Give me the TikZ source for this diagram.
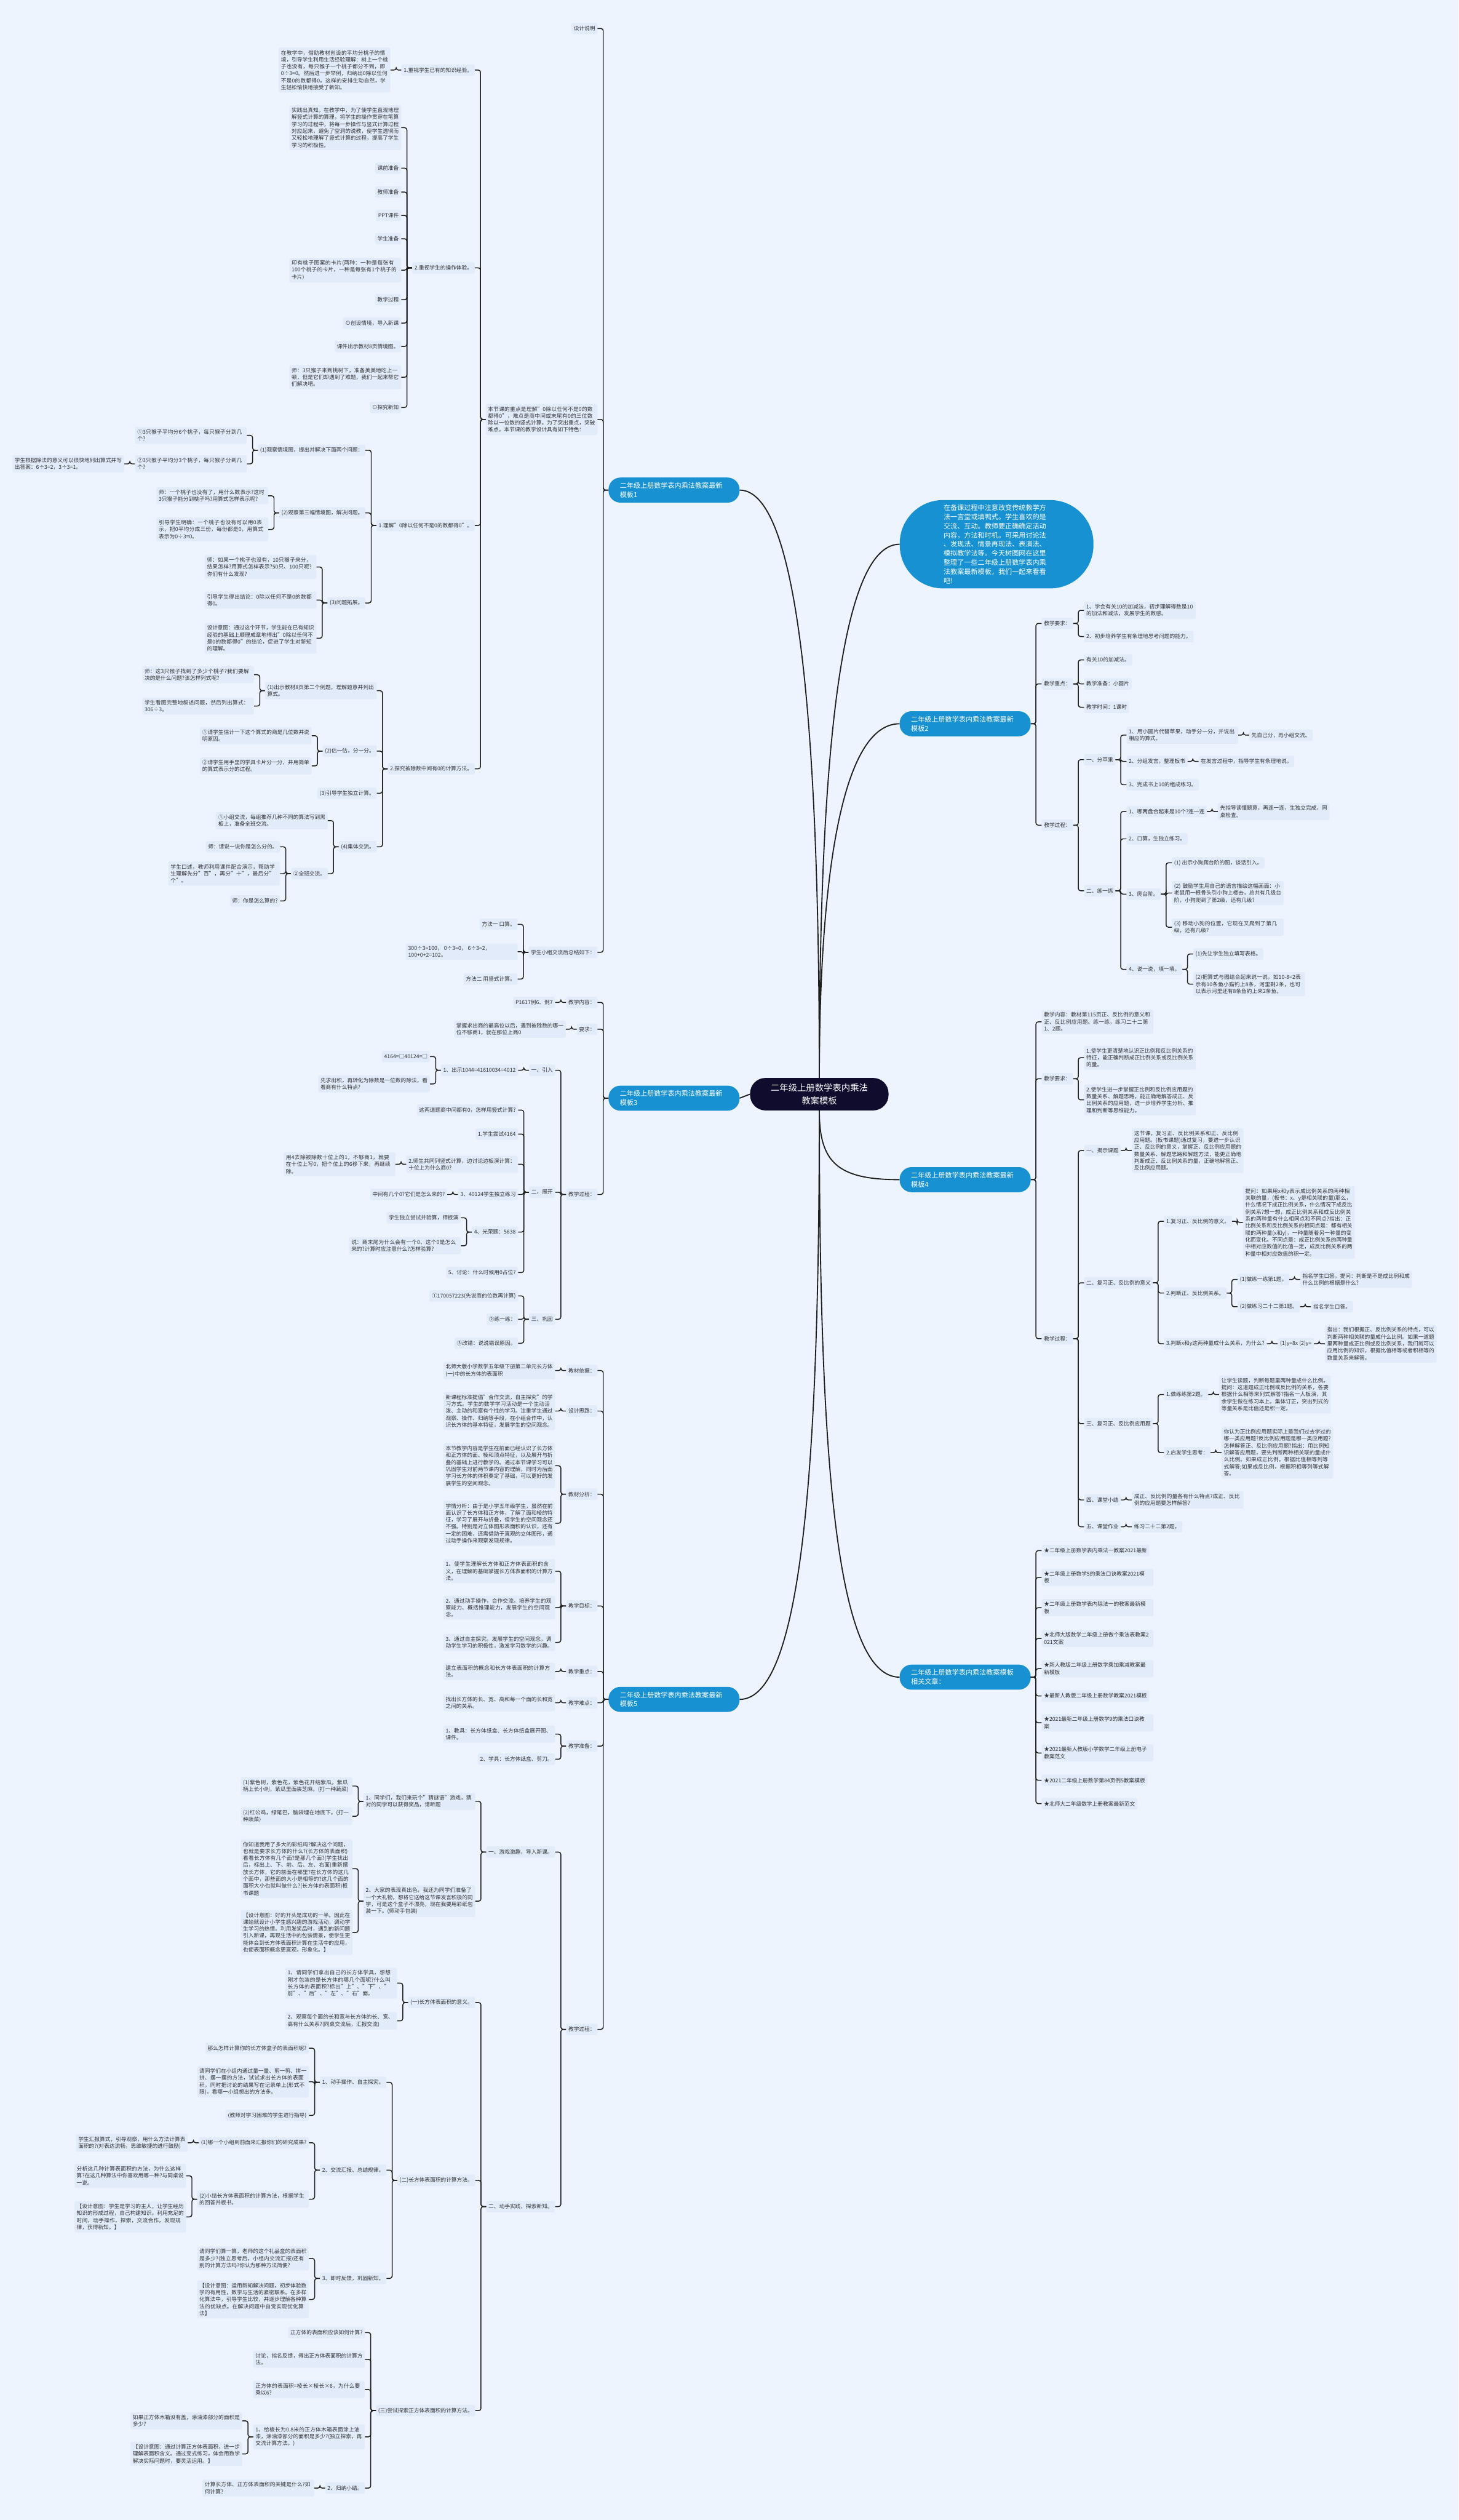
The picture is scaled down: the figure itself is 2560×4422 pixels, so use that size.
\documentclass[tikz,border=0pt]{standalone}
\usepackage{fontspec}
\setmainfont{Noto Sans CJK SC}
\XeTeXlinebreaklocale "zh"
\XeTeXlinebreakskip=0pt plus 1pt
\usetikzlibrary{calc}
\definecolor{bgc}{HTML}{EEF4FE}
\definecolor{boxc}{HTML}{E1EBFA}
\definecolor{topicc}{HTML}{1791D1}
\definecolor{rootc}{HTML}{0F0C2D}
\definecolor{txtc}{HTML}{333333}
\definecolor{linec}{HTML}{1E1E1E}
\tikzset{
  link/.style={draw=linec, line width=1.6pt, rounded corners=4pt},
  trunk/.style={draw=linec, line width=2pt},
  box/.style={fill=boxc, text=txtc, rounded corners=3pt, inner xsep=4pt, inner ysep=4.5pt,
    minimum height=20pt, font=\fontsize{9.4}{12.2}\selectfont},
  para/.style={box, text width=188pt, align=left},
  topic/.style={fill=topicc, text=white, rounded corners=21pt, minimum height=44pt,
    text width=190pt, inner xsep=20pt, align=left, font=\fontsize{12}{16}\selectfont},
  rootnode/.style={fill=rootc, text=white, rounded corners=27pt, minimum height=57pt,
    minimum width=243pt, align=center, font=\fontsize{15.5}{22}\selectfont},
  intro/.style={fill=topicc, text=white, rounded corners=76pt, minimum height=155pt,
    text width=186pt, inner xsep=77pt, inner ysep=0pt, align=left, font=\fontsize{12}{16}\selectfont}
}
% child on the left / on the right of its parent, at height #4
\newcommand{\kidl}[5][box]{\node[#1,anchor=east] (#2) at ($(#3.west |- 0,#4)+(-19,0)$) {#5};
  \draw[link] (#3.west) -- ++(-9,0) |- (#2.east);}
\newcommand{\kidr}[5][box]{\node[#1,anchor=west] (#2) at ($(#3.east |- 0,#4)+(19,0)$) {#5};
  \draw[link] (#3.east) -- ++(9,0) |- (#2.west);}

\begin{document}
\begin{tikzpicture}[x=1pt, y=-1pt]
  \fill[bgc] (0,0) rectangle (2560,4422);
  \useasboundingbox (0,0) rectangle (2560,4422);
  %the centre and the main branches
  \node[rootnode] (root) at (1438,1920) {二年级上册数学表内乘法\\教案模板};
  \node[intro, anchor=west] (intro) at (1579,955) {在备课过程中注意改变传统教学方\\法一言堂或填鸭式。学生喜欢的是\\交流、互动。教师要正确确定活动\\内容，方法和时机。可采用讨论法\\、发现法、情景再现法、表演法、\\模拟教学法等。今天树图网在这里\\整理了一些二年级上册数学表内乘\\法教案最新模板，我们一起来看看\\吧!};
  \node[topic] (t1) at (1183,860) {二年级上册数学表内乘法教案最新\\模板1};
  \node[topic] (t3) at (1183,1927) {二年级上册数学表内乘法教案最新\\模板3};
  \node[topic] (t5) at (1183,2982) {二年级上册数学表内乘法教案最新\\模板5};
  \node[topic] (t2) at (1694,1270) {二年级上册数学表内乘法教案最新\\模板2};
  \node[topic] (t4) at (1694,2070) {二年级上册数学表内乘法教案最新\\模板4};
  \node[topic] (rel) at (1694,2943) {二年级上册数学表内乘法教案模板\\相关文章：};
  \draw[trunk] (root.north) .. controls (1438,1350) and (1410,860) .. (t1.east);
  \draw[trunk] (root.north) .. controls (1438,1400) and (1466,955) .. (intro.west);
  \draw[trunk] (root.north) .. controls (1438,1600) and (1466,1270) .. (t2.west);
  \draw[trunk] (root.west) -- (t3.east);
  \draw[trunk] (root.south) .. controls (1438,2040) and (1470,2070) .. (t4.west);
  \draw[trunk] (root.south) .. controls (1438,2550) and (1466,2943) .. (rel.west);
  \draw[trunk] (root.south) .. controls (1438,2550) and (1410,2982) .. (t5.east);

  %template 1
  \kidl{a1}{t1}{50}{设计说明}
  \kidl[para]{a2}{t1}{736}{本节课的重点是理解"0除以任何不是0的数都得0"，难点是商中间或末尾有0的三位数除以一位数的竖式计算。为了突出重点，突破难点，本节课的教学设计具有如下特色：}
  \kidl{a3}{t1}{1671}{学生小组交流后总结如下：}
  \kidl{b1}{a2}{123}{1.重视学生已有的知识经验。}
  \kidl{b2}{a2}{470}{2.重视学生的操作体验。}
  \kidl{b3}{a2}{922}{1.理解"0除以任何不是0的数都得0"。}
  \kidl{b4}{a2}{1349}{2.探究被除数中间有0的计算方法。}
  \kidl[para]{c1}{b1}{123}{在教学中，借助教材创设的平均分桃子的情境，引导学生利用生活经验理解：树上一个桃子也没有，每只猴子一个桃子都分不到，即0÷3=0。然后进一步举例，归纳出0除以任何不是0的数都得0。这样的安排生动自然，学生轻松愉快地接受了新知。}
  \kidl[para]{d1}{b2}{224}{实践出真知。在教学中，为了使学生直观地理解竖式计算的算理，将学生的操作贯穿在笔算学习的过程中，将每一步操作与竖式计算过程对应起来，避免了空洞的说教，使学生透彻而又轻松地理解了竖式计算的过程，提高了学生学习的积极性。}
  \kidl{d2}{b2}{295}{课前准备}
  \kidl{d3}{b2}{337}{教师准备}
  \kidl{d4}{b2}{378}{PPT课件}
  \kidl{d5}{b2}{419}{学生准备}
  \kidl[para]{d6}{b2}{474}{印有桃子图案的卡片(两种：一种是每张有100个桃子的卡片，一种是每张有1个桃子的卡片)}
  \kidl{d7}{b2}{526}{教学过程}
  \kidl{d8}{b2}{567}{⊙创设情境，导入新课}
  \kidl{d9}{b2}{608}{课件出示教材8页情境图。}
  \kidl[para]{d10}{b2}{662}{师：3只猴子来到桃树下，准备美美地吃上一顿，但是它们却遇到了难题，我们一起来帮它们解决吧。}
  \kidl{d11}{b2}{715}{⊙探究新知}
  \kidl{e1}{b3}{790}{(1)观察情境图，提出并解决下面两个问题：}
  \kidl[para]{e11}{e1}{764}{①3只猴子平均分6个桃子，每只猴子分到几个?}
  \kidl[para]{e12}{e1}{814}{②3只猴子平均分3个桃子，每只猴子分到几个?}
  \kidl[para]{e121}{e12}{814}{学生根据除法的意义可以很快地列出算式并写出答案：6÷3=2，3÷3=1。}
  \kidl{e2}{b3}{900}{(2)观察第三幅情境图，解决问题。}
  \kidl[para]{e21}{e2}{870}{师：一个桃子也没有了，用什么数表示?这时3只猴子能分到桃子吗?用算式怎样表示呢?}
  \kidl[para]{e22}{e2}{929}{引导学生明确：一个桃子也没有可以用0表示，把0平均分成三份，每份都是0，用算式表示为0÷3=0。}
  \kidl{e3}{b3}{1058}{(3)问题拓展。}
  \kidl[para]{e31}{e3}{995}{师：如果一个桃子也没有，10只猴子来分，结果怎样?用算式怎样表示?50只、100只呢?你们有什么发现?}
  \kidl[para]{e32}{e3}{1053}{引导学生得出结论：0除以任何不是0的数都得0。}
  \kidl[para]{e33}{e3}{1120}{设计意图：通过这个环节，学生能在已有知识经验的基础上顺理成章地得出"0除以任何不是0的数都得0"的结论，促进了学生对新知的理解。}
  \kidl[para]{f1}{b4}{1212}{(1)出示教材8页第二个例题，理解题意并列出算式。}
  \kidl[para]{f11}{f1}{1184}{师：这3只猴子找到了多少个桃子?我们要解决的是什么问题?该怎样列式呢?}
  \kidl[para]{f12}{f1}{1239}{学生看图完整地叙述问题，然后列出算式：306÷3。}
  \kidl{f2}{b4}{1318}{(2)估一估，分一分。}
  \kidl[para]{f21}{f2}{1291}{①请学生估计一下这个算式的商是几位数并说明原因。}
  \kidl[para]{f22}{f2}{1344}{②请学生用手里的学具卡片分一分，并用简单的算式表示分的过程。}
  \kidl{f3}{b4}{1392}{(3)引导学生独立计算。}
  \kidl{f4}{b4}{1486}{(4)集体交流。}
  \kidl[para]{f41}{f4}{1440}{①小组交流，每组推荐几种不同的算法写到黑板上，准备全班交流。}
  \kidl{f42}{f4}{1533}{②全班交流。}
  \kidl{f421}{f42}{1486}{师：请说一说你是怎么分的。}
  \kidl[para]{f422}{f42}{1533}{学生口述，教师利用课件配合演示，帮助学生理解先分"百"，再分"十"，最后分"个"。}
  \kidl{f423}{f42}{1581}{师：你是怎么算的?}
  \kidl{g1}{a3}{1622}{方法一 口算。}
  \kidl[para]{g2}{a3}{1670}{300÷3=100，0÷3=0，6÷3=2，100+0+2=102。}
  \kidl{g3}{a3}{1718}{方法二 用竖式计算。}

  %template 3
  \kidl{h1}{t3}{1759}{教学内容：}
  \kidl{h11}{h1}{1759}{P1617例6、例7}
  \kidl{h2}{t3}{1806}{要求：}
  \kidl[para]{h21}{h2}{1806}{掌握求出商的最高位以后，遇到被除数的哪一位不够商1，就在那位上商0}
  \kidl{h3}{t3}{2096}{教学过程：}
  \kidl{i1}{h3}{1878}{一、引入}
  \kidl{i11}{i1}{1878}{1、出示1044=41610034=4012}
  \kidl{i111}{i11}{1854}{4164=□40124=□}
  \kidl[para]{i112}{i11}{1902}{先求出积，再转化为除数是一位数的除法，看看商有什么特点?}
  \kidl{i2}{h3}{2092}{二、展开}
  \kidl{i21}{i2}{1948}{这两道题商中间都有0，怎样用竖式计算?}
  \kidl{i22}{i2}{1990}{1.学生尝试4164}
  \kidl[para]{i23}{i2}{2043}{2.师生共同列竖式计算，边讨论边板演计算：十位上为什么商0?}
  \kidl[para]{i231}{i23}{2043}{用4去除被除数十位上的1，不够商1，就要在十位上写0，把个位上的6移下来，再继续除。}
  \kidl{i24}{i2}{2096}{3、40124学生独立练习}
  \kidl{i241}{i24}{2096}{中间有几个0?它们是怎么来的?}
  \kidl{i25}{i2}{2162}{4、光荣题：5638}
  \kidl{i251}{i25}{2137}{学生独立尝试并验算，师板演}
  \kidl[para]{i252}{i25}{2186}{说：商末尾为什么会有一个0，这个0是怎么来的?计算时应注意什么?怎样验算?}
  \kidl{i26}{i2}{2233}{5、讨论：什么时候用0占位?}
  \kidl{i3}{h3}{2315}{三、巩固}
  \kidl{i31}{i3}{2274}{①170057223(先说商的位数再计算)}
  \kidl{i32}{i3}{2315}{②练一练：}
  \kidl{i33}{i3}{2357}{③改错：说说错误原因。}

  %template 5
  \kidl{j1}{t5}{2405}{教材依据：}
  \kidl[para]{j11}{j1}{2405}{北师大版小学数学五年级下册第二单元长方体(一)中的长方体的表面积}
  \kidl{j2}{t5}{2476}{设计思路：}
  \kidl[para]{j21}{j2}{2476}{新课程标准提倡"合作交流，自主探究"的学习方式。学生的数学学习活动是一个生动活泼、主动的和富有个性的学习。注重学生通过观察、操作、归纳等手段，在小组合作中，认识长方体的基本特征，发展学生的空间观念。}
  \kidl{j3}{t5}{2622}{教材分析：}
  \kidl[para]{j31}{j3}{2572}{本节教学内容是学生在前面已经认识了长方体和正方体的面、棱和顶点特征，以及展开与折叠的基础上进行教学的。通过本节课学习可以巩固学生对前两节课内容的理解，同时为后面学习长方体的体积奠定了基础，可以更好的发展学生的空间观念。}
  \kidl[para]{j32}{j3}{2673}{学情分析：由于是小学五年级学生，虽然在前面认识了长方体和正方体，了解了面和棱的特征，学习了展开与折叠，但学生的空间观念还不强。特别是对立体图形表面积的认识，还有一定的困难，还需借助于直观的立体图形，通过动手操作来观察发现规律。}
  \kidl{j4}{t5}{2818}{教学目标：}
  \kidl[para]{j41}{j4}{2757}{1、使学生理解长方体和正方体表面积的含义，在理解的基础掌握长方体表面积的计算方法。}
  \kidl[para]{j42}{j4}{2821}{2、通过动手操作，合作交流，培养学生的观察能力、概括推理能力，发展学生的空间观念。}
  \kidl[para]{j43}{j4}{2882}{3、通过自主探究，发展学生的空间观念，调动学生学习的积极性，激发学习数学的兴趣。}
  \kidl{j5}{t5}{2933}{教学重点：}
  \kidl[para]{j51}{j5}{2933}{建立表面积的概念和长方体表面积的计算方法。}
  \kidl{j6}{t5}{2988}{教学难点：}
  \kidl[para]{j61}{j6}{2988}{找出长方体的长、宽、高和每一个面的长和宽之间的关系。}
  \kidl{j7}{t5}{3064}{教学准备：}
  \kidl[para]{j71}{j7}{3043}{1、教具：长方体纸盒、长方体纸盒展开图、课件。}
  \kidl{j72}{j7}{3087}{2、学具：长方体纸盒、剪刀。}
  \kidl{j8}{t5}{3561}{教学过程：}
  \kidl{k1}{j8}{3250}{一、游戏激趣，导入新课。}
  \kidl[para]{k11}{k1}{3161}{1、同学们，我们来玩个"猜谜语"游戏，猜对的同学可以获得奖品，请听题}
  \kidl[para]{k111}{k11}{3134}{(1)紫色树，紫色花，紫色花开结紫瓜，紫瓜柄上长小刺，紫瓜里面装芝麻。(打一种蔬菜)}
  \kidl[para]{k112}{k11}{3187}{(2)红公鸡，绿尾巴，脑袋埋在地底下。(打一种蔬菜)}
  \kidl[para]{k12}{k1}{3336}{2、大家的表现真出色，我还为同学们准备了一个大礼物，想将它送给这节课发言积极的同学，可是这个盒子不漂亮，现在我要用彩纸包装一下。(师动手包装)}
  \kidl[para]{k121}{k12}{3279}{你知道我用了多大的彩纸吗?解决这个问题，也就是要求长方体的什么?(长方体的表面积)看看长方体有几个面?是那几个面?(学生找出后，标出上、下、前、后、左、右面)重新摆放长方体，它的前面在哪里?在长方体的这几个面中，那些面的大小是相等的?这几个面的面积大小也就叫做什么?(长方体的表面积)板书课题}
  \kidl[para]{k122}{k12}{3391}{【设计意图：好的开头是成功的一半。因此在课始就设计小学生感兴趣的游戏活动，调动学生学习的热情。利用发奖品时，遇到的新问题引入新课，再现生活中的包装情景，使学生更能体会到长方体表面积计算在生活中的应用，也使表面积概念更直观，形象化。】}
  \kidl{k2}{j8}{3872}{二、动手实践，探索新知。}
  \kidl{l1}{k2}{3514}{(一)长方体表面积的意义。}
  \kidl[para]{l11}{l1}{3480}{1、请同学们拿出自己的长方体学具，想想刚才包装的是长方体的哪几个面呢?什么叫长方体的表面积?标出"上"、"下"、"前"、"后"、"左"、"右"面。}
  \kidl[para]{l12}{l1}{3546}{2、观察每个面的长和宽与长方体的长、宽、高有什么关系?(同桌交流后，汇报交流)}
  \kidl{l2}{k2}{3826}{(二)长方体表面积的计算方法。}
  \kidl{m1}{l2}{3654}{1、动手操作、自主探究。}
  \kidl{m11}{m1}{3594}{那么怎样计算你的长方体盒子的表面积呢?}
  \kidl[para]{m12}{m1}{3653}{请同学们在小组内通过量一量、剪一剪、拼一拼、摆一摆的方法，试试求出长方体的表面积，同时把讨论的结果写在记录单上(形式不限)，看哪一小组想出的方法多。}
  \kidl{m13}{m1}{3712}{(教师对学习困难的学生进行指导)}
  \kidl{m2}{l2}{3808}{2、交流汇报、总结规律。}
  \kidl{m21}{m2}{3760}{(1)哪一个小组到前面来汇报你们的研究成果?}
  \kidl[para]{m211}{m21}{3760}{学生汇报算式，引导观察，用什么方法计算表面积的?(对表达流畅，思维敏捷的进行鼓励)}
  \kidl[para]{m22}{m2}{3859}{(2)小结长方体表面积的计算方法，根据学生的回答并板书。}
  \kidl[para]{m221}{m22}{3818}{分析这几种计算表面积的方法，为什么这样算?在这几种算法中你喜欢用哪一种?与同桌说一说。}
  \kidl[para]{m222}{m22}{3890}{【设计意图：学生是学习的主人，让学生经历知识的形成过程，自己构建知识。利用充足的时间，动手操作，探索，交流合作，发现规律，获得新知。】}
  \kidl{m3}{l2}{3998}{3、即时反馈，巩固新知。}
  \kidl[para]{m31}{m3}{3963}{请同学们算一算，老师的这个礼品盒的表面积是多少?(独立思考后，小组内交流汇报)还有别的计算方法吗?你认为那种方法简便?}
  \kidl[para]{m32}{m3}{4035}{【设计意图：运用新知解决问题，初步体验数学的有用性，数学与生活的紧密联系。在多样化算法中，引导学生比较，并逐步理解各种算法的优缺点。在解决问题中自觉实现优化算法】}
  \kidl{l3}{k2}{4230}{(三)尝试探索正方体表面积的计算方法。}
  \kidl{n1}{l3}{4093}{正方体的表面积应该如何计算?}
  \kidl[para]{n2}{l3}{4140}{讨论，指名反馈，得出正方体表面积的计算方法。}
  \kidl[para]{n3}{l3}{4193}{正方体的表面积=棱长×棱长×6，为什么要乘以6?}
  \kidl[para]{n4}{l3}{4276}{1、给棱长为0.8米的正方体木箱表面涂上油漆，涂油漆部分的面积是多少?(独立探索，再交流计算方法。)}
  \kidl[para]{n41}{n4}{4248}{如果正方体木箱没有盖，涂油漆部分的面积是多少?}
  \kidl[para]{n42}{n4}{4306}{【设计意图：通过计算正方体表面积，进一步理解表面积含义。通过变式练习，体会用数学解决实际问题时，要灵活运用。】}
  \kidl{n5}{l3}{4366}{2、归纳小结。}
  \kidl[para]{n51}{n5}{4366}{计算长方体、正方体表面积的关键是什么?如何计算?}

  %template 2
  \kidr{p1}{t2}{1094}{教学要求：}
  \kidr[para]{p11}{p1}{1071}{1、学会有关10的加减法，初步理解得数是10的加法和减法，发展学生的数感。}
  \kidr{p12}{p1}{1117}{2、初步培养学生有条理地思考问题的能力。}
  \kidr{p2}{t2}{1200}{教学重点：}
  \kidr{p21}{p2}{1158}{有关10的加减法。}
  \kidr{p22}{p2}{1200}{教学准备：小圆片}
  \kidr{p23}{p2}{1241}{教学时间：1课时}
  \kidr{p3}{t2}{1448}{教学过程：}
  \kidr{q1}{p3}{1333}{一、分苹果}
  \kidr[para]{q11}{q1}{1290}{1、用小圆片代替苹果，动手分一分，并说出相应的算式。}
  \kidr{q111}{q11}{1290}{先自己分，再小组交流。}
  \kidr{q12}{q1}{1336}{2、分组发言，整理板书}
  \kidr{q121}{q12}{1336}{在发言过程中，指导学生有条理地说。}
  \kidr{q13}{q1}{1377}{3、完成书上10的组成练习。}
  \kidr{q2}{p3}{1563}{二、练一练}
  \kidr{q21}{q2}{1424}{1、哪两盘合起来是10个?连一连}
  \kidr[para]{q211}{q21}{1424}{先指导读懂题意，再连一连，生独立完成，同桌检查。}
  \kidr{q22}{q2}{1472}{2、口算，生独立练习。}
  \kidr{q23}{q2}{1569}{3、爬台阶。}
  \kidr{q231}{q23}{1514}{(1) 出示小狗爬台阶的图，谈话引入。}
  \kidr[para]{q232}{q23}{1567}{(2) 鼓励学生用自己的语言描绘这幅画面：小老鼠用一根骨头引小狗上楼去，总共有几级台阶，小狗爬到了第2级，还有几级?}
  \kidr[para]{q233}{q23}{1627}{(3) 移动小狗的位置，它现在又爬到了第几级，还有几级?}
  \kidr{q24}{q2}{1701}{4、说一说，填一填。}
  \kidr{q241}{q24}{1674}{(1)先让学生独立填写表格。}
  \kidr[para]{q242}{q24}{1727}{(2)把算式与图结合起来说一说，如10-8=2表示有10条鱼小猫钓上8条，河里剩2条，也可以表示河里还有8条鱼钓上来2条鱼。}

  %template 4
  \kidr[para]{r1}{t4}{1793}{教学内容：教材第115页正、反比例的意义和正、反比例应用题、练一练，练习二十二第1、2题。}
  \kidr{r2}{t4}{1893}{教学要求：}
  \kidr[para]{r21}{r2}{1856}{1.使学生更清楚地认识正比例和反比例关系的特征，能正确判断成正比例关系或反比例关系的量。}
  \kidr[para]{r22}{r2}{1930}{2.使学生进一步掌握正比例和反比例应用题的数量关系、解题思路，能正确地解答成正、反比例关系的应用题，进一步培养学生分析、推理和判断等思维能力。}
  \kidr{r3}{t4}{2349}{教学过程：}
  \kidr{s1}{r3}{2019}{一、揭示课题}
  \kidr[para]{s11}{s1}{2019}{这节课，复习正、反比例关系和正、反比例应用题。(板书课题)通过复习，要进一步认识正、反比例的意义，掌握正、反比例应用题的数量关系、解题思路和解题方法，能更正确地判断成正、反比例关系的量，正确地解答正、反比例应用题。}
  \kidr{s2}{r3}{2251}{二、复习正、反比例的意义}
  \kidr{s21}{s2}{2143}{1.复习正、反比例的意义。}
  \kidr[para]{s211}{s21}{2145}{提问：如果用x和y表示成比例关系的两种相关联的量，(板书：x、y是相关联的量)那么，什么情况下成正比例关系，什么情况下成反比例关系?想一想，成正比例关系和成反比例关系的两种量有什么相同点和不同点?指出：正比例关系和反比例关系的相同点是：都有相关联的两种量(x和y)，一种量随着另一种量的变化而变化。不同点是：成正比例关系的两种量中相对应数值的比值一定，成反比例关系的两种量中相对应数值的积一定。}
  \kidr{s22}{s2}{2269}{2.判断正、反比例关系。}
  \kidr{s221}{s22}{2245}{(1)做练一练第1题。}
  \kidr[para]{s2211}{s221}{2245}{指名学生口答。提问：判断是不是成比例和成什么比例的根据是什么?}
  \kidr{s222}{s22}{2293}{(2)做练习二十二第1题。}
  \kidr{s2221}{s222}{2293}{指名学生口答。}
  \kidr{s23}{s2}{2358}{3.判断x和y这两种量成什么关系，为什么?}
  \kidr{s231}{s23}{2358}{(1)y=8x (2)y=}
  \kidr[para]{s2311}{s231}{2358}{指出：我们根据正、反比例关系的特点，可以判断两种相关联的量成什么比例。如果一道题里两种量成正比例或反比例关系，我们就可以应用比例的知识，根据比值相等或者积相等的数量关系来解答。}
  \kidr{s3}{r3}{2498}{三、复习正、反比例应用题}
  \kidr{s31}{s3}{2447}{1.做练练第2题。}
  \kidr[para]{s311}{s31}{2447}{让学生读题，判断每题里两种量成什么比例。提问：这道题成正比例或反比例的关系，各要根据什么相等来列式解答?指名一人板演，其余学生做在练习本上。集体订正，突出列式的等量关系是比值还是积一定。}
  \kidr{s32}{s3}{2549}{2.启发学生思考：}
  \kidr[para]{s321}{s32}{2549}{你认为正比例应用题实际上是我们过去学过的哪一类应用题?反比例应用题是哪一类应用题?怎样解答正、反比例应用题?指出：用比例知识解答应用题，要先判断两种相关联的量成什么比例。如果成正比例，根据比值相等列等式解答;如果成反比例，根据积相等列等式解答。}
  \kidr{s4}{r3}{2632}{四、课堂小结}
  \kidr[para]{s41}{s4}{2632}{成正、反比例的量各有什么特点?成正、反比例的应用题要怎样解答?}
  \kidr{s5}{r3}{2679}{五、课堂作业}
  \kidr{s51}{s5}{2679}{练习二十二第2题。}

  %related articles
  \kidr{u1}{rel}{2721}{★二年级上册数学表内乘法一教案2021最新}
  \kidr[para]{u2}{rel}{2768}{★二年级上册数学5的乘法口诀教案2021模\\板}
  \kidr[para]{u3}{rel}{2821}{★二年级上册数学表内除法一的教案最新模\\板}
  \kidr[para]{u4}{rel}{2875}{★北师大版数学二年级上册做个乘法表教案2\\021文案}
  \kidr[para]{u5}{rel}{2928}{★新人教版二年级上册数学乘加乘减教案最\\新模板}
  \kidr{u6}{rel}{2976}{★最新人教版二年级上册数学教案2021模板}
  \kidr[para]{u7}{rel}{3023}{★2021最新二年级上册数学9的乘法口诀教\\案}
  \kidr[para]{u8}{rel}{3076}{★2021最新人教版小学数学二年级上册电子\\教案范文}
  \kidr{u9}{rel}{3124}{★2021二年级上册数学第84页例5教案模板}
  \kidr{u10}{rel}{3165}{★北师大二年级数学上册教案最新范文}
\end{tikzpicture}
\end{document}
